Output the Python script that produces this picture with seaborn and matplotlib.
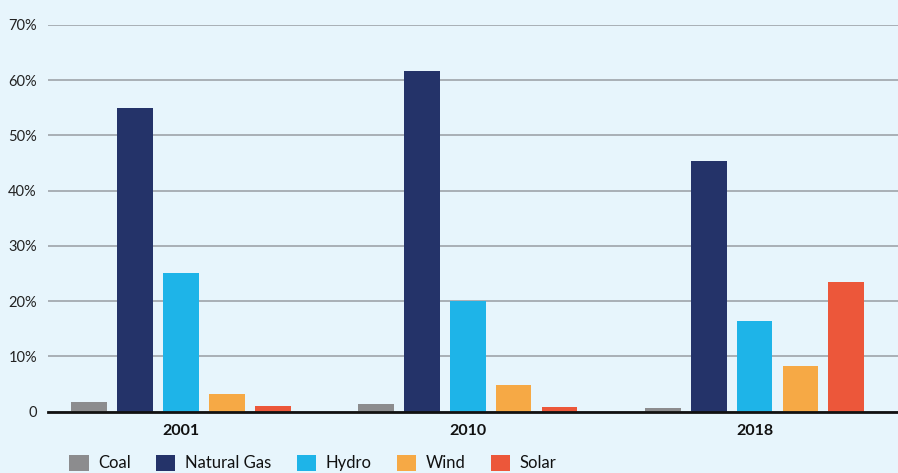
import matplotlib
matplotlib.use("Agg")
import matplotlib.pyplot as plt
import seaborn as sns
import pandas as pd

years = ["2001", "2010", "2018"]
sources = ["Coal", "Natural Gas", "Hydro", "Wind", "Solar"]
coal = [1.75, 1.4, 0.7]
natural_gas = [55.0, 61.7, 45.4]
hydro = [25.1, 20.0, 16.4]
wind = [3.2, 4.8, 8.3]
solar = [1.0, 0.85, 23.5]
colors = ["#8C8C8E", "#243369", "#1EB4E8", "#F6A945", "#EC573A"]
yticks = [0, 10, 20, 30, 40, 50, 60, 70]
ytick_labels = ["0", "10%", "20%", "30%", "40%", "50%", "60%", "70%"]

rows = []
for src, vals in zip(sources, [coal, natural_gas, hydro, wind, solar]):
    for y, v in zip(years, vals):
        rows.append({"Year": y, "Source": src, "Share": v})
df = pd.DataFrame(rows)

sns.set_theme(style="white")
plt.rcParams["font.family"] = ["Lato", "DejaVu Sans"]
bg = "#E7F5FC"
fig = plt.figure(figsize=(8.98, 4.73), dpi=100, facecolor=bg)
W, H = 898, 473
ax = fig.add_axes([48 / W, (H - 411.7) / H, (898 - 48) / W, (411.7 - 25) / H])
ax.set_facecolor(bg)

sns.barplot(data=df, x="Year", y="Share", hue="Source", order=years,
            hue_order=sources, palette=colors, width=0.8, gap=0.22,
            saturation=1, ax=ax, zorder=3, legend=True, linewidth=0,
            edgecolor="none")

ax.set_ylim(0, 70)
ax.set_xlim(-0.463, 2.5)
ax.set_yticks(yticks)
ax.set_yticklabels(ytick_labels, fontsize=10.5, color="#222222")
ax.yaxis.grid(True, color="#A4AAB0", linewidth=1.3, zorder=0)
ax.set_axisbelow(True)
for s in ["top", "right", "left"]:
    ax.spines[s].set_visible(False)
ax.spines["bottom"].set_color("#111111")
ax.spines["bottom"].set_linewidth(2)
ax.spines["bottom"].set_zorder(4)
ax.tick_params(axis="y", length=0, pad=8)
ax.tick_params(axis="x", length=0, pad=9)
for lab in ax.get_xticklabels():
    lab.set_fontweight("bold")
    lab.set_fontsize(11.5)
    lab.set_color("#111111")
ax.set_xlabel("")
ax.set_ylabel("")

handles, labels = ax.get_legend_handles_labels()
ax.legend_.remove()
fig.legend(handles, labels, loc="center left", bbox_to_anchor=(66 / W, 1 - 463 / H),
           ncol=5, frameon=False, fontsize=12, handlelength=1.15, handleheight=1.15,
           columnspacing=1.5, handletextpad=0.6, labelcolor="#111111",
           borderaxespad=0, borderpad=0.2)

fig.savefig("out.png", dpi=100, facecolor=bg)
